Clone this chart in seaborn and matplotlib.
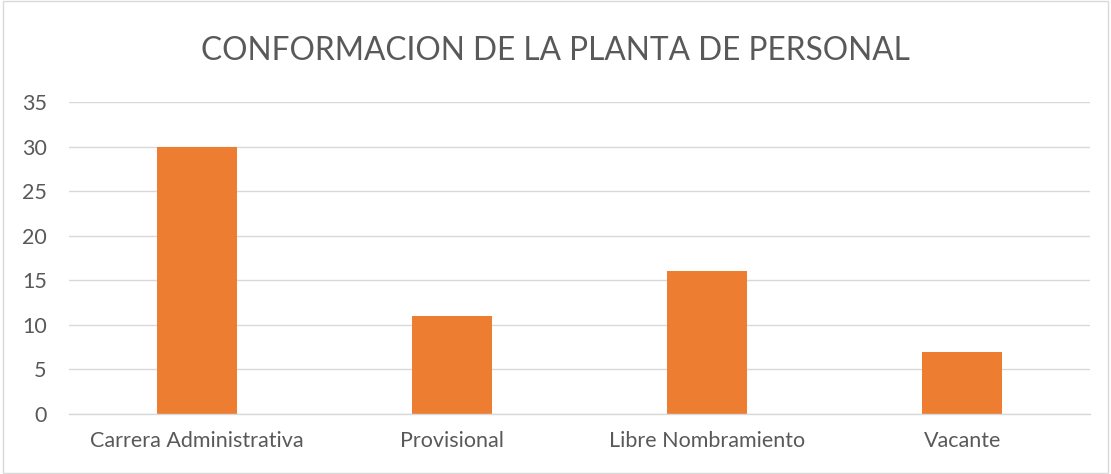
import matplotlib
matplotlib.use("Agg")
import matplotlib.pyplot as plt
import seaborn as sns
import pandas as pd
from matplotlib.patches import Rectangle

categories = ["Carrera Administrativa", "Provisional", "Libre Nombramiento", "Vacante"]
values = [30, 11, 16, 7]
yticks = [0, 5, 10, 15, 20, 25, 30, 35]

sns.set_theme(style="white")
plt.rcParams['font.family'] = ['Lato', 'DejaVu Sans']

df = pd.DataFrame({"cat": categories, "val": values})

fig = plt.figure(figsize=(11.11, 4.74), dpi=100)
ax = fig.add_axes([69/1111, 1 - 414/474, (1090-69)/1111, (414-102)/474])

sns.barplot(data=df, x="cat", y="val", color="#ED7D31", width=0.314, ax=ax,
            saturation=1, linewidth=0)

ax.set_ylim(0, 35)
ax.set_xlim(-0.5, 3.5)
ax.set_yticks(yticks)
ax.yaxis.grid(True, color="#D9D9D9", linewidth=1)
ax.set_axisbelow(True)
for s in ["top", "right", "left"]:
    ax.spines[s].set_visible(False)
ax.spines["bottom"].set_color("#D9D9D9")
ax.spines["bottom"].set_linewidth(1)
ax.set_xlabel("")
ax.set_ylabel("")
ax.tick_params(axis="both", length=0, labelsize=15.5, labelcolor="#595959")
ax.tick_params(axis="x", pad=12)
ax.tick_params(axis="y", pad=16)
for lbl in ax.get_yticklabels():
    lbl.set_horizontalalignment("right")

fig.text(0.5, 1 - 51/474, "CONFORMACION DE LA PLANTA DE PERSONAL", ha="center", va="center",
         fontsize=22.8, color="#595959")

fig.patches.append(Rectangle((3/1111, 0.002), 1 - 6/1111, 0.996, transform=fig.transFigure,
                             fill=False, edgecolor="#D9D9D9", linewidth=1))

fig.savefig("out.png", dpi=100)
